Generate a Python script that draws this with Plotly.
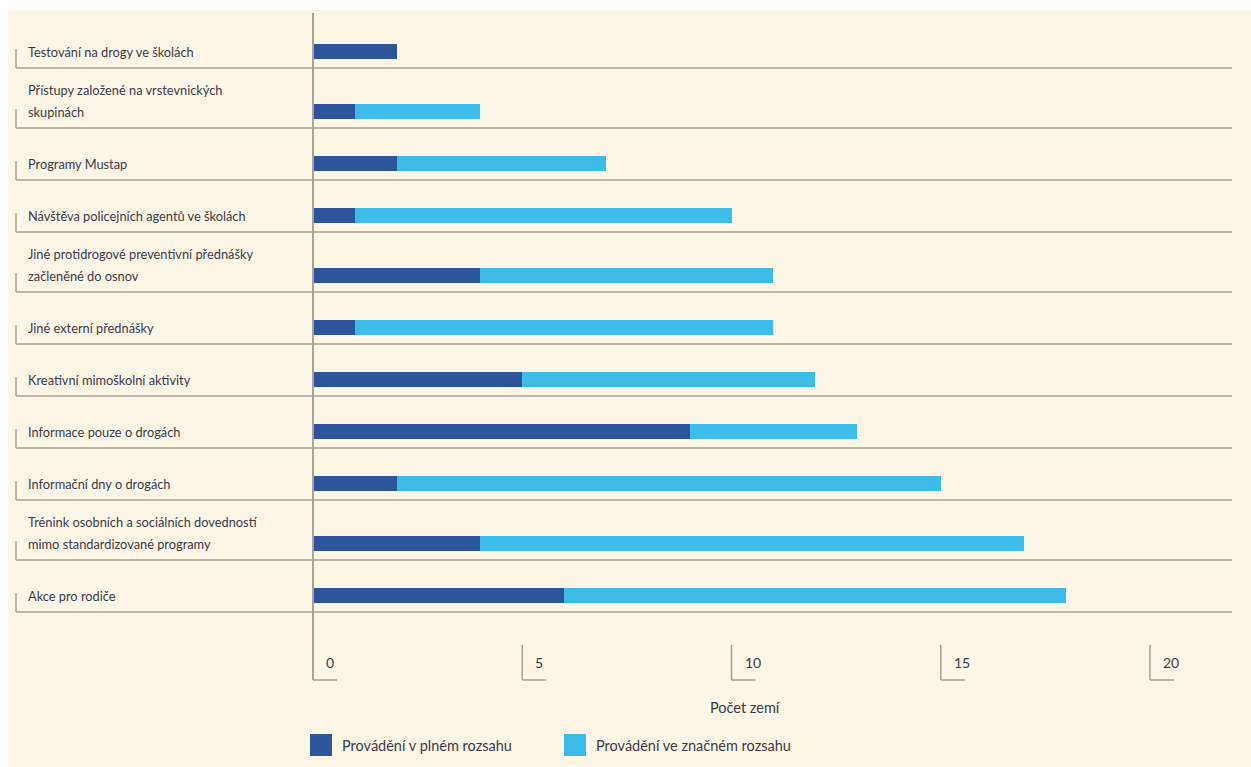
import plotly.graph_objects as go

# ---------------- data ----------------
categories = [
    "Testování na drogy ve školách",
    "Přístupy založené na vrstevnických<br>skupinách",
    "Programy Mustap",
    "Návštěva policejních agentů ve školách",
    "Jiné protidrogové preventivní přednášky<br>začleněné do osnov",
    "Jiné externí přednášky",
    "Kreativní mimoškolní aktivity",
    "Informace pouze o drogách",
    "Informační dny o drogách",
    "Trénink osobních a sociálních dovedností<br>mimo standardizované programy",
    "Akce pro rodiče",
]
full_scale = [2, 1, 2, 1, 4, 1, 5, 9, 2, 4, 6]
considerable_scale = [0, 3, 5, 9, 7, 10, 7, 4, 13, 13, 12]
series_names = ["Provádění v plném rozsahu", "Provádění ve značném rozsahu"]
x_ticks = [0, 5, 10, 15, 20]
x_title = "Počet zemí"

# ---------------- style / layout ----------------
W, H = 1251, 767
DARK = "#2d5599"
LIGHT = "#3dbcea"
CREAM = "#fdf6e6"
RULE = "#a7a197"
TEXT = "#3a3a4a"
FONT = "Lato"

X0_PX = 313.0          # pixel of value 0
PX_PER_UNIT = (1150.0 - 313.0) / 20.0
x_range = [-X0_PX / PX_PER_UNIT, (W - X0_PX) / PX_PER_UNIT]

TOP = 16.0             # top of first row band (pixel units on y)
ROW_H = 52.0           # single-line row band height
EXTRA_LINE_H = 8.0     # additional height per extra label line
LINE_GAP = 22.0        # distance between label lines
BAR_OFFSET = 16.5      # bar centre above row separator
BAR_W = 15

# compute row bands from label line counts
separators, bar_y, label_lines = [], [], []
y = TOP
for cat in categories:
    lines = cat.split("<br>")
    y += ROW_H + EXTRA_LINE_H * (len(lines) - 1)
    separators.append(y)
    bar_y.append(y - BAR_OFFSET)
    label_lines.append(lines)

# bottom area positions (from figure bottom)
TICK_TOP = H - 122
TICK_BOT = H - 87
TITLE_Y = H - 60
LEG_Y = H - 22

fig = go.Figure()
fig.add_trace(go.Bar(
    x=full_scale, y=bar_y, orientation="h", width=BAR_W,
    marker=dict(color=DARK, line=dict(width=0)), name=series_names[0],
    showlegend=False,
))
fig.add_trace(go.Bar(
    x=considerable_scale, y=bar_y, orientation="h", width=BAR_W,
    marker=dict(color=LIGHT, line=dict(width=0)), name=series_names[1],
    showlegend=False,
))

shapes = []
# cream background panel
shapes.append(dict(type="rect", xref="paper", yref="paper",
                   x0=8 / W, x1=1, y0=0, y1=1 - 10 / H,
                   fillcolor=CREAM, line=dict(width=0), layer="below"))

annotations = []
for sep, lines in zip(separators, label_lines):
    # row separator rule
    shapes.append(dict(type="line", xref="paper", yref="y",
                       x0=16 / W, x1=1232 / W, y0=sep, y1=sep,
                       line=dict(color=RULE, width=1.5)))
    # small left bracket
    shapes.append(dict(type="line", xref="paper", yref="y",
                       x0=16 / W, x1=16 / W, y0=sep - 19, y1=sep,
                       line=dict(color=RULE, width=1.5)))
    n = len(lines)
    for i, ln in enumerate(lines):
        ly = sep - 16 - LINE_GAP * (n - 1 - i)
        annotations.append(dict(
            text=ln, xref="paper", yref="y", x=26 / W, y=ly,
            xanchor="left", yanchor="middle", showarrow=False,
            font=dict(family=FONT, size=12.8, color=TEXT),
        ))

# vertical value axis line
shapes.append(dict(type="line", xref="x", yref="y",
                   x0=0, x1=0, y0=13, y1=TICK_BOT,
                   line=dict(color=RULE, width=2)))

# ticks with bracket stubs and labels
STUB = 24 / PX_PER_UNIT
for t in x_ticks:
    if t != 0:
        shapes.append(dict(type="line", xref="x", yref="y",
                           x0=t, x1=t, y0=TICK_TOP, y1=TICK_BOT,
                           line=dict(color=RULE, width=1.5)))
    shapes.append(dict(type="line", xref="x", yref="y",
                       x0=t, x1=t + STUB, y0=TICK_BOT, y1=TICK_BOT,
                       line=dict(color=RULE, width=1.5)))
    annotations.append(dict(
        text=str(t), xref="x", yref="y", x=t, y=(TICK_TOP + TICK_BOT) / 2,
        xanchor="left", yanchor="middle", xshift=11, showarrow=False,
        font=dict(family=FONT, size=14, color=TEXT),
    ))

# axis title
annotations.append(dict(
    text=x_title, xref="paper", yref="y", x=745 / W, y=TITLE_Y,
    xanchor="center", yanchor="middle", showarrow=False,
    font=dict(family=FONT, size=14.5, color=TEXT),
))

# legend (manual, square swatches)
legend_px = [(310, DARK), (564, LIGHT)]
for (lx, col), name in zip(legend_px, series_names):
    shapes.append(dict(type="rect", xref="paper", yref="y",
                       x0=lx / W, x1=(lx + 22) / W, y0=LEG_Y - 11, y1=LEG_Y + 11,
                       fillcolor=col, line=dict(width=0)))
    annotations.append(dict(
        text=name, xref="paper", yref="y", x=(lx + 30) / W, y=LEG_Y,
        xanchor="left", yanchor="middle", showarrow=False,
        font=dict(family=FONT, size=14.5, color=TEXT),
    ))

fig.update_layout(
    width=W, height=H, autosize=False,
    margin=dict(l=0, r=0, t=0, b=0, pad=0),
    paper_bgcolor="white", plot_bgcolor="rgba(0,0,0,0)",
    barmode="stack", bargap=0,
    xaxis=dict(range=x_range, visible=False, fixedrange=True),
    yaxis=dict(range=[H, 0], visible=False, fixedrange=True),
    shapes=shapes, annotations=annotations,
    showlegend=False,
)

fig.write_html("out.html")
